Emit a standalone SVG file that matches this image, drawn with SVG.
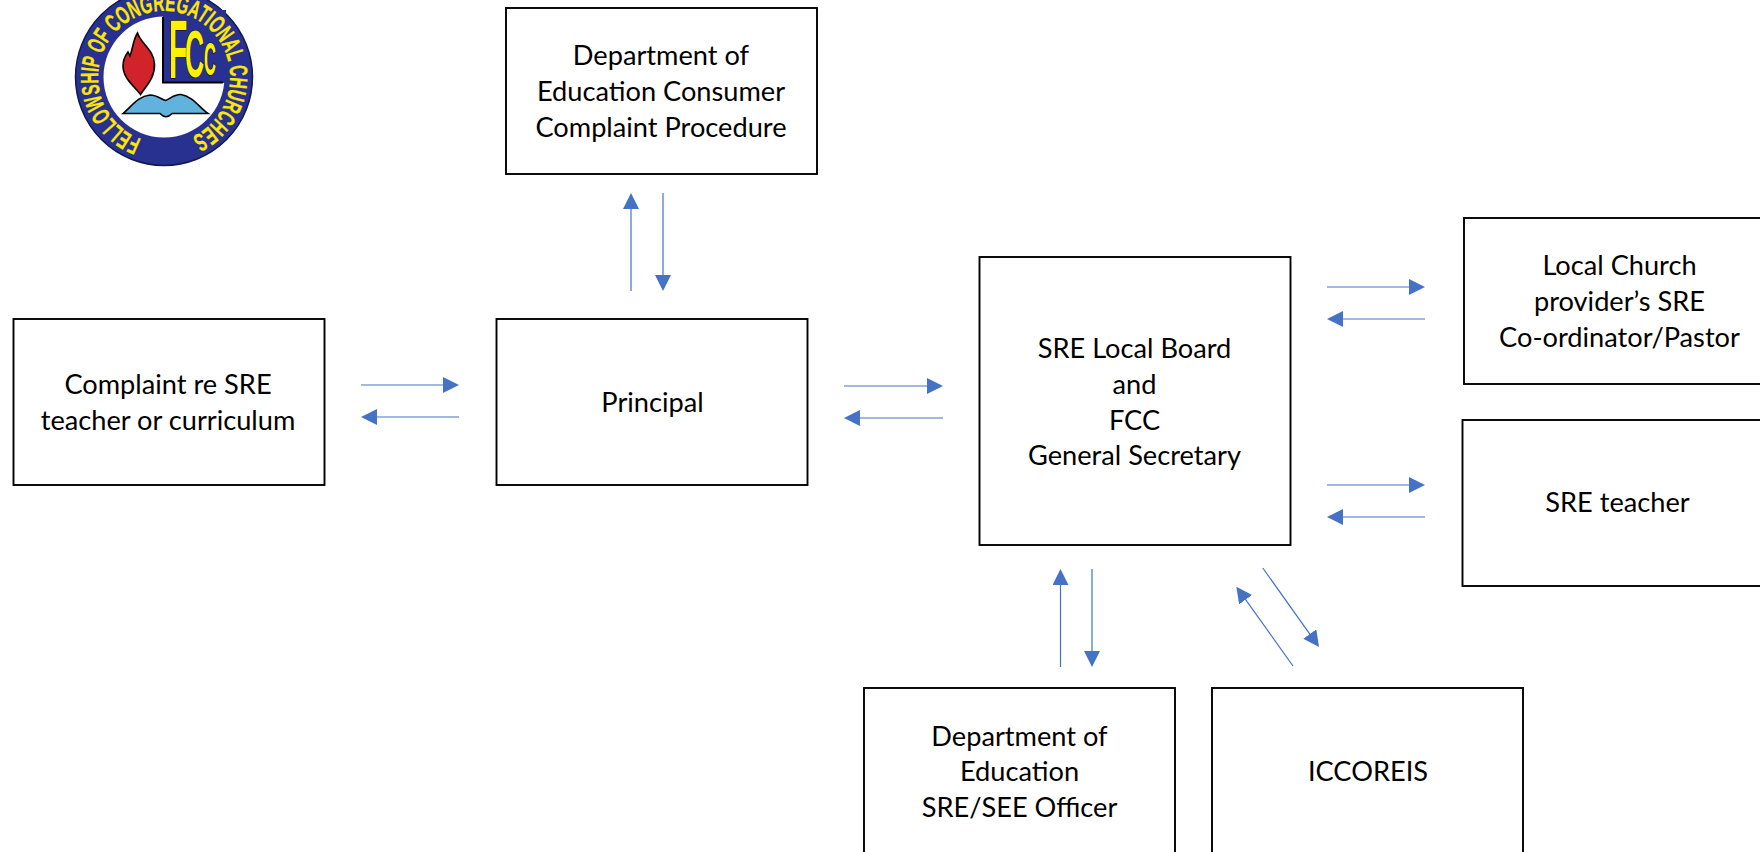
<svg xmlns="http://www.w3.org/2000/svg" width="1760" height="852" viewBox="0 0 1760 852">
<style>
.box{fill:#fff;stroke:#000;stroke-width:1.9}
.lbl{font-family:"Lato","Liberation Sans",sans-serif;font-size:27.2px;fill:#000;text-anchor:middle}
.cn{stroke:#4472c4;stroke-width:1.2;fill:none;marker-end:url(#ah)}
.ring{font-family:"Liberation Sans",Arial,sans-serif;font-weight:700;font-size:25px;fill:#ffe800;stroke:#ffe800;stroke-width:.3}
.fcc{font-family:"Liberation Sans",Arial,sans-serif;font-weight:700;fill:#fff200;stroke:#000;stroke-width:1.2;paint-order:stroke}
</style>
<defs>
<marker id="ah" markerUnits="userSpaceOnUse" markerWidth="17" markerHeight="17" refX="13" refY="8" orient="auto"><path d="M0 0L16 8L0 16Z" fill="#4472c4"/></marker>
</defs>
<rect width="1760" height="852" fill="#fff"/>
<g id="logo">
<circle cx="164" cy="77" r="88.5" fill="#28318f" stroke="#111a4d" stroke-width="1.5"/>
<circle cx="164" cy="77" r="60.5" fill="#fff"/>
<path d="M163 10V83H226V10Z" fill="#28318f"/>
<path d="M163 17V82.5H223" fill="none" stroke="#000" stroke-width="2"/>
<path id="ringp" d="M141.4 139A66 66 0 1 1 189.8 137.800" fill="none"/>
<text class="ring"><textPath href="#ringp" textLength="362" lengthAdjust="spacingAndGlyphs">FELLOWSHIP OF CONGREGATIONAL CHURCHES</textPath></text>
<path d="M137.500 33C141 44 154 50 154.500 64C155 78 146 86 140.500 94.500C134 86 123 78 123 66C123 60 125 56 128 52L130 56C133 48 133 40 137.500 33Z" fill="#d2232a" stroke="#000" stroke-width="1.6"/>
<path d="M123 113.500C131 107 138 96 150 95C157 95 161 99 165.500 100.500C170 99 174 94 181 94.500C192 96 200 108 208 113.500L172 113.500Q166 120 160 113.500Z" fill="#61b2dc" stroke="#000" stroke-width="1.6"/>
<text class="fcc" transform="translate(169 78) scale(.36 1)" font-size="84">F</text>
<text class="fcc" transform="translate(185 77) scale(.4 1)" font-size="66">C</text>
<text class="fcc" transform="translate(204 75) scale(.36 1)" font-size="46">C</text>
</g>
<g id="connectors">
<path class="cn" d="M631 291V196"/>
<path class="cn" d="M663 193V288"/>
<path class="cn" d="M361 385H456"/>
<path class="cn" d="M459 417H364"/>
<path class="cn" d="M844 386H940"/>
<path class="cn" d="M943 418H847"/>
<path class="cn" d="M1327 287H1422"/>
<path class="cn" d="M1425 319H1330"/>
<path class="cn" d="M1327 485H1422"/>
<path class="cn" d="M1425 517H1330"/>
<path class="cn" d="M1060.500 667V572"/>
<path class="cn" d="M1092 569V664"/>
<path class="cn" d="M1293 666L1238.100 589.100"/>
<path class="cn" d="M1262.800 568L1317.300 644.600"/>
</g>
<g id="node-dept-consumer"><rect class="box" x="506" y="8" width="311" height="166"/>
<text class="lbl" x="661" y="65">Department of</text><text class="lbl" x="661" y="101">Education Consumer</text><text class="lbl" x="661" y="137">Complaint Procedure</text></g>
<g id="node-complaint"><rect class="box" x="13.500" y="319" width="311" height="166"/>
<text class="lbl" x="168" y="394">Complaint re SRE</text><text class="lbl" x="168" y="430">teacher or curriculum</text></g>
<g id="node-principal"><rect class="box" x="496.500" y="319" width="311" height="166"/>
<text class="lbl" x="652.500" y="412">Principal</text></g>
<g id="node-board"><rect class="box" x="979.500" y="257" width="311" height="288"/>
<text class="lbl" x="1134.500" y="358">SRE Local Board</text><text class="lbl" x="1134.500" y="394">and</text><text class="lbl" x="1134.500" y="430">FCC</text><text class="lbl" x="1134.500" y="465">General Secretary</text></g>
<g id="node-local-church"><rect class="box" x="1464" y="218" width="320" height="166"/>
<text class="lbl" x="1619.500" y="275">Local Church</text><text class="lbl" x="1619.500" y="311">provider’s SRE</text><text class="lbl" x="1619.500" y="347">Co-ordinator/Pastor</text></g>
<g id="node-teacher"><rect class="box" x="1462.500" y="420" width="320" height="166"/>
<text class="lbl" x="1617.500" y="512">SRE teacher</text></g>
<g id="node-dept-officer"><rect class="box" x="864" y="688" width="311" height="190"/>
<text class="lbl" x="1019.500" y="746">Department of</text><text class="lbl" x="1019.500" y="781">Education</text><text class="lbl" x="1019.500" y="817">SRE/SEE Officer</text></g>
<g id="node-iccoreis"><rect class="box" x="1212" y="688" width="311" height="190"/>
<text class="lbl" x="1368" y="781">ICCOREIS</text></g>
</svg>
